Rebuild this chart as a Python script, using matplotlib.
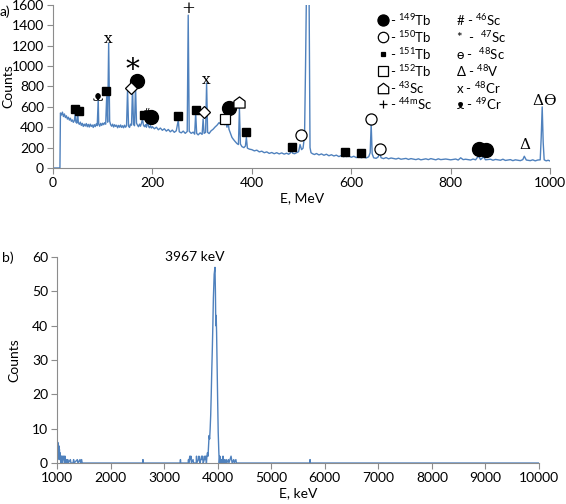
import numpy as np
import matplotlib
matplotlib.use("Agg")
import matplotlib.pyplot as plt
from matplotlib.path import Path

plt.rcParams['font.family'] = ['Lato', 'DejaVu Sans']
plt.rcParams['mathtext.fontset'] = 'custom'
plt.rcParams['mathtext.rm'] = 'Lato'
plt.rcParams['mathtext.default'] = 'rm'

# ---- panel a) spectrum (E, MeV ; counts) ----
spectrum_a = [
    (0, 0), (14, 0), (15, 540), (17, 520), (19, 548), (21, 505), (23, 530), (25, 495),
    (27, 512), (29, 480), (31, 498), (33, 470), (35, 488), (37, 458), (39, 472), (41, 448),
    (43, 465), (45, 545), (46, 450), (48, 440), (50, 525), (51, 445), (53, 428), (55, 450),
    (57, 418), (59, 438), (61, 408), (63, 430), (65, 412), (67, 436), (69, 405), (71, 428),
    (73, 402), (75, 430), (77, 408), (79, 422), (81, 398), (83, 426), (85, 406), (87, 432),
    (89, 415), (91, 675), (92, 430), (94, 410), (96, 438), (98, 418), (100, 440), (102, 425),
    (104, 445), (106, 430), (108, 700), (110, 450), (112, 1225), (114, 460), (116, 425),
    (118, 410), (120, 430), (122, 402), (124, 425), (126, 408), (128, 420), (130, 395),
    (132, 418), (134, 400), (136, 422), (138, 398), (140, 415), (142, 395), (144, 420),
    (146, 400), (148, 415), (150, 770), (152, 410), (154, 398), (156, 430), (158, 420),
    (160, 790), (162, 430), (164, 415), (166, 815), (168, 440), (170, 420), (172, 405),
    (174, 430), (176, 410), (178, 440), (180, 480), (182, 420), (184, 405), (186, 425),
    (188, 400), (190, 470), (192, 410), (194, 395), (196, 415), (198, 392), (200, 405),
    (204, 385), (208, 400), (212, 375), (216, 392), (220, 370), (224, 385), (228, 362),
    (232, 378), (236, 355), (240, 372), (244, 350), (248, 365), (252, 470), (254, 355),
    (258, 345), (262, 362), (266, 340), (270, 358), (272, 1500), (274, 360), (278, 340),
    (282, 352), (285, 332), (287, 540), (289, 340), (292, 325), (296, 345), (300, 330),
    (302, 480), (304, 340), (307, 350), (309, 835), (311, 350), (314, 338), (318, 365),
    (322, 380), (326, 402), (330, 420), (334, 445), (338, 430), (342, 450), (345, 425),
    (348, 440), (350, 400), (352, 470), (354, 380), (357, 340), (360, 300), (363, 280),
    (366, 262), (370, 240), (373, 230), (375, 585), (377, 235), (380, 210), (384, 200),
    (387, 215), (389, 300), (391, 195), (395, 185), (400, 180), (405, 168), (410, 175),
    (415, 158), (420, 165), (425, 150), (430, 158), (435, 143), (440, 152), (445, 140),
    (450, 150), (455, 138), (460, 148), (465, 136), (470, 145), (474, 135), (478, 150),
    (480, 190), (482, 145), (486, 140), (490, 150), (494, 160), (497, 230), (500, 180),
    (503, 195), (506, 320), (508, 1000), (510, 1800), (515, 1800), (517, 200), (519, 150),
    (522, 140), (526, 132), (530, 142), (535, 128), (540, 138), (545, 125), (550, 135),
    (555, 120), (560, 130), (565, 118), (570, 126), (575, 112), (580, 122), (585, 110),
    (588, 145), (590, 112), (595, 118), (600, 105), (605, 115), (610, 102), (615, 110),
    (618, 135), (620, 100), (625, 108), (630, 98), (635, 110), (638, 150), (640, 430),
    (642, 140), (645, 100), (650, 95), (654, 108), (657, 150), (660, 100), (665, 92),
    (670, 102), (675, 90), (680, 98), (690, 88), (695, 96), (700, 86), (710, 94), (715, 84),
    (720, 92), (730, 82), (735, 90), (740, 80), (750, 90), (755, 82), (760, 92), (770, 80),
    (775, 90), (780, 82), (790, 88), (800, 80), (810, 88), (815, 78), (820, 100), (825, 82),
    (830, 86), (840, 78), (845, 88), (850, 80), (856, 120), (860, 82), (866, 110), (870, 80),
    (880, 86), (885, 76), (890, 84), (900, 76), (905, 86), (910, 74), (920, 82), (925, 72),
    (930, 80), (940, 72), (945, 82), (948, 115), (952, 78), (960, 72), (965, 80), (970, 70),
    (975, 78), (980, 80), (982, 300), (984, 600), (986, 250), (988, 80), (992, 70),
    (996, 76), (1000, 68),
]

# peak identification marks (E, counts)
tb149 = [(169, 850), (197, 500), (355, 585), (856, 190), (870, 180)]
tb150 = [(498, 320), (640, 485), (658, 190)]
tb151 = [(44, 580), (52, 560), (106, 755), (184, 520), (252, 510), (287, 565),
         (389, 350), (480, 210), (588, 160), (620, 148)]
tb152 = [(347, 480)]
sc43 = [(375, 650)]
diamonds = [(156, 785), (304, 550)]
text_marks = [('+', 272, 1565, 12), ('x', 110, 1265, 11), ('x', 309, 860, 11),
              ('*', 160, 960, 20), ('#', 188, 540, 7), ('ᴥ', 91, 700, 10),
              ('Δ', 950, 225, 11), ('Δ', 976, 655, 11), ('ϴ', 998, 655, 11)]

legend_left = ['$^{149}$Tb', '$^{150}$Tb', '$^{151}$Tb', '$^{152}$Tb', '$^{43}$Sc', '$^{44m}$Sc']
legend_right = ['# - $^{46}$Sc', '*  -  $^{47}$Sc', 'ɵ -  $^{48}$Sc', 'Δ - $^{48}$V',
                'x - $^{48}$Cr', 'ᴥ - $^{49}$Cr']

# ---- panel b) spectrum (E, keV ; counts) ----
spectrum_b = [
    (1000, 8), (1005, 7), (1010, 4), (1015, 6), (1020, 3), (1025, 5), (1030, 2), (1035, 5),
    (1040, 1), (1045, 4), (1050, 2), (1055, 3), (1060, 1), (1065, 2), (1070, 0), (1075, 2),
    (1080, 1), (1090, 2), (1100, 0), (1110, 2), (1120, 1), (1130, 2), (1140, 0), (1150, 2),
    (1160, 0), (1180, 1), (1190, 0), (1200, 1), (1210, 0), (1250, 1), (1260, 0), (1300, 0),
    (1310, 1), (1320, 0), (1380, 1), (1390, 0), (1430, 1), (1440, 0), (1460, 1), (1470, 0),
    (2600, 0), (2605, 1), (2610, 0), (3300, 0), (3305, 1), (3310, 0), (3450, 0), (3455, 1),
    (3460, 0), (3480, 2), (3490, 1), (3500, 2), (3510, 0), (3540, 1), (3550, 0), (3600, 0),
    (3605, 2), (3610, 0), (3640, 1), (3650, 2), (3660, 1), (3670, 0), (3700, 2), (3710, 1),
    (3720, 2), (3730, 0), (3750, 1), (3760, 2), (3770, 1), (3780, 2), (3790, 0), (3800, 2),
    (3810, 3), (3820, 2), (3830, 5), (3840, 8), (3850, 7), (3860, 10), (3870, 14),
    (3880, 20), (3890, 27), (3900, 33), (3910, 40), (3920, 48), (3935, 55), (3950, 57),
    (3958, 50), (3965, 40), (3972, 43), (3980, 38), (3990, 28), (4000, 18), (4010, 9),
    (4020, 4), (4030, 0), (4040, 2), (4050, 1), (4060, 0), (4070, 1), (4080, 0), (4090, 1),
    (4100, 2), (4110, 0), (4130, 1), (4140, 0), (4160, 1), (4170, 0), (4200, 1), (4210, 0),
    (4250, 2), (4260, 1), (4270, 0), (4300, 1), (4310, 0), (4340, 1), (4350, 0), (5720, 0),
    (5725, 1), (5730, 0), (10000, 0),
]

LINE = '#4f81bd'
GRAY = '#8c8c8c'

# house-shaped marker for 43Sc
HOUSE = Path([(-1, -1), (1, -1), (1, 0.25), (0, 1), (-1, 0.25), (-1, -1)],
             [Path.MOVETO, Path.LINETO, Path.LINETO, Path.LINETO, Path.LINETO, Path.CLOSEPOLY])


def style(ax):
    for s in ['top', 'right']:
        ax.spines[s].set_visible(False)
    for s in ['left', 'bottom']:
        ax.spines[s].set_color(GRAY)
        ax.spines[s].set_linewidth(0.8)
    ax.tick_params(direction='out', length=4, color=GRAY, labelsize=10,
                   labelcolor='black', width=0.8, pad=2.5)


fig = plt.figure(figsize=(5.66, 5.04), dpi=100)

# ------ panel a) ------
ax1 = fig.add_axes([0.0936, 0.6667, 0.8784, 0.3234])
ea, ca = zip(*spectrum_a)
ax1.plot(ea, ca, color=LINE, lw=1.0, clip_on=True)
ax1.set_xlim(0, 1000)
ax1.set_ylim(0, 1600)
ax1.set_xticks(range(0, 1001, 200))
ax1.set_yticks(range(0, 1601, 200))
style(ax1)
ax1.set_xlabel('E, MeV', fontsize=10, labelpad=2)
ax1.set_ylabel('Counts', fontsize=10)
ax1.yaxis.set_label_coords(-0.078, 0.5)

mk = dict(linestyle='none', clip_on=False, zorder=5)
ax1.plot(*zip(*tb149), marker='o', ms=10, mfc='black', mec='black', **mk)
ax1.plot(*zip(*tb150), marker='o', ms=8, mfc='white', mec='black', mew=0.9, **mk)
ax1.plot(*zip(*tb151), marker='s', ms=5.5, mfc='black', mec='black', **mk)
ax1.plot(*zip(*tb152), marker='s', ms=7.5, mfc='white', mec='black', mew=0.9, **mk)
ax1.plot(*zip(*sc43), marker=HOUSE, ms=8, mfc='white', mec='black', mew=0.9, **mk)
ax1.plot(*zip(*diamonds), marker='D', ms=6, mfc='white', mec='black', mew=0.9, **mk)
for t, x, y, fs in text_marks:
    ax1.text(x, y, t, fontsize=fs, ha='center', va='center', family=['DejaVu Serif', 'DejaVu Sans'])

# legend drawn as text in axes fraction
leg_syms = [('o', 'black', 'black', 8), ('o', 'white', 'black', 7.5), ('s', 'black', 'black', 3.5),
            ('s', 'white', 'black', 7), (HOUSE, 'white', 'black', 7.5), ('+', 'black', 'black', 6)]
for i, (lab, sym) in enumerate(zip(legend_left, leg_syms)):
    yy = 0.905 - i * 0.103
    m, fc, ec, ms = sym
    ax1.plot([0.663], [yy], marker=m, ms=ms, mfc=fc, mec=ec, mew=0.9,
             transform=ax1.transAxes, linestyle='none', clip_on=False)
    ax1.text(0.678, yy, '- ' + lab, fontsize=9.5, va='center', transform=ax1.transAxes)
for i, lab in enumerate(legend_right):
    yy = 0.905 - i * 0.103
    ax1.text(0.81, yy, lab, fontsize=9.5, va='center', transform=ax1.transAxes)

# ------ panel b) ------
ax2 = fig.add_axes([0.1007, 0.0813, 0.8516, 0.4087])
eb, cb = zip(*spectrum_b)
ax2.plot(eb, cb, color=LINE, lw=1.0)
ax2.set_xlim(1000, 10000)
ax2.set_ylim(0, 60)
ax2.set_xticks(range(1000, 10001, 1000))
ax2.set_yticks(range(0, 61, 10))
style(ax2)
ax2.set_xlabel('E, keV', fontsize=10, labelpad=2)
ax2.set_ylabel('Counts', fontsize=10)
ax2.yaxis.set_label_coords(-0.075, 0.5)
ax2.text(3577, 60, '3967 keV', fontsize=10, ha='center', va='center')

fig.text(0.0, 0.976, 'a)', fontsize=10, va='center')
fig.text(0.004, 0.488, 'b)', fontsize=10, va='center')

fig.savefig('out.png', dpi=100)
